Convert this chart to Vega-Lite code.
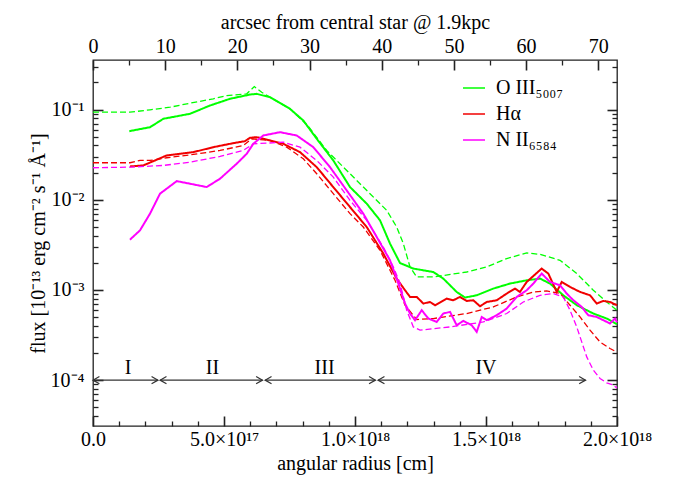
{
"$schema": "https://vega.github.io/schema/vega-lite/v6.json",
"width": 524, "height": 366,
"autosize": {"type": "none"},
"padding": {"left": 93, "top": 60, "right": 68, "bottom": 60},
"config": {
  "font": "Liberation Serif",
  "view": {"stroke": "#222", "strokeWidth": 1.3},
  "axis": {"labelFont": "Liberation Serif", "titleFont": "Liberation Serif", "labelFontSize": 20, "titleFontSize": 20, "labelColor": "#000", "titleColor": "#000", "tickColor": "#222", "tickOpacity": 1, "domain": false, "grid": false, "ticks": true, "titleFontWeight": "normal", "labelFlush": false, "labelOverlap": false, "labelBound": false, "zindex": 1},
  "text": {"font": "Liberation Serif"}
},
"datasets": {
  "curves": [
    {"line":"OIII","kind":"obs","r":1.386e17,"flux":0.0577},
    {"line":"OIII","kind":"obs","r":2.176e17,"flux":0.0638},
    {"line":"OIII","kind":"obs","r":2.683e17,"flux":0.0791},
    {"line":"OIII","kind":"obs","r":3.702e17,"flux":0.0899},
    {"line":"OIII","kind":"obs","r":4.466e17,"flux":0.111},
    {"line":"OIII","kind":"obs","r":5.229e17,"flux":0.1318},
    {"line":"OIII","kind":"obs","r":5.993e17,"flux":0.147},
    {"line":"OIII","kind":"obs","r":6.248e17,"flux":0.1496},
    {"line":"OIII","kind":"obs","r":6.756e17,"flux":0.1372},
    {"line":"OIII","kind":"obs","r":7.519e17,"flux":0.102},
    {"line":"OIII","kind":"obs","r":8.027e17,"flux":0.0757},
    {"line":"OIII","kind":"obs","r":8.539e17,"flux":0.0475},
    {"line":"OIII","kind":"obs","r":9.172e17,"flux":0.0273},
    {"line":"OIII","kind":"obs","r":9.81e17,"flux":0.01384},
    {"line":"OIII","kind":"obs","r":1.0447e18,"flux":0.00906},
    {"line":"OIII","kind":"obs","r":1.0955e18,"flux":0.00592},
    {"line":"OIII","kind":"obs","r":1.1336e18,"flux":0.00327},
    {"line":"OIII","kind":"obs","r":1.1718e18,"flux":0.00199},
    {"line":"OIII","kind":"obs","r":1.2226e18,"flux":0.001726},
    {"line":"OIII","kind":"obs","r":1.2989e18,"flux":0.001582},
    {"line":"OIII","kind":"obs","r":1.3371e18,"flux":0.001336},
    {"line":"OIII","kind":"obs","r":1.3882e18,"flux":0.00095},
    {"line":"OIII","kind":"obs","r":1.4199e18,"flux":0.000824},
    {"line":"OIII","kind":"obs","r":1.4646e18,"flux":0.000873},
    {"line":"OIII","kind":"obs","r":1.5279e18,"flux":0.001036},
    {"line":"OIII","kind":"obs","r":1.5917e18,"flux":0.001177},
    {"line":"OIII","kind":"obs","r":1.6554e18,"flux":0.00128},
    {"line":"OIII","kind":"obs","r":1.7062e18,"flux":0.001337},
    {"line":"OIII","kind":"obs","r":1.7443e18,"flux":0.001177},
    {"line":"OIII","kind":"obs","r":1.7951e18,"flux":0.000873},
    {"line":"OIII","kind":"obs","r":1.8463e18,"flux":0.000678},
    {"line":"OIII","kind":"obs","r":1.9096e18,"flux":0.000548},
    {"line":"OIII","kind":"obs","r":1.9608e18,"flux":0.000482},
    {"line":"OIII","kind":"obs","r":2.0e18,"flux":0.000417},
    {"line":"OIII","kind":"model","r":0,"flux":0.0936},
    {"line":"OIII","kind":"model","r":1.412e17,"flux":0.0936},
    {"line":"OIII","kind":"model","r":2.176e17,"flux":0.0995},
    {"line":"OIII","kind":"model","r":2.939e17,"flux":0.1063},
    {"line":"OIII","kind":"model","r":3.702e17,"flux":0.1178},
    {"line":"OIII","kind":"model","r":4.592e17,"flux":0.1318},
    {"line":"OIII","kind":"model","r":5.103e17,"flux":0.1432},
    {"line":"OIII","kind":"model","r":5.867e17,"flux":0.1496},
    {"line":"OIII","kind":"model","r":6.157e17,"flux":0.18},
    {"line":"OIII","kind":"model","r":6.439e17,"flux":0.1559},
    {"line":"OIII","kind":"model","r":6.756e17,"flux":0.1372},
    {"line":"OIII","kind":"model","r":7.519e17,"flux":0.102},
    {"line":"OIII","kind":"model","r":8.206e17,"flux":0.066},
    {"line":"OIII","kind":"model","r":8.92e17,"flux":0.0352},
    {"line":"OIII","kind":"model","r":9.81e17,"flux":0.01945},
    {"line":"OIII","kind":"model","r":1.0573e18,"flux":0.01168},
    {"line":"OIII","kind":"model","r":1.121e18,"flux":0.00764},
    {"line":"OIII","kind":"model","r":1.1592e18,"flux":0.00499},
    {"line":"OIII","kind":"model","r":1.1844e18,"flux":0.00327},
    {"line":"OIII","kind":"model","r":1.21e18,"flux":0.0018},
    {"line":"OIII","kind":"model","r":1.2356e18,"flux":0.001394},
    {"line":"OIII","kind":"model","r":1.2989e18,"flux":0.001394},
    {"line":"OIII","kind":"model","r":1.4264e18,"flux":0.001582},
    {"line":"OIII","kind":"model","r":1.5028e18,"flux":0.0018},
    {"line":"OIII","kind":"model","r":1.5791e18,"flux":0.00223},
    {"line":"OIII","kind":"model","r":1.6554e18,"flux":0.00257},
    {"line":"OIII","kind":"model","r":1.7062e18,"flux":0.002485},
    {"line":"OIII","kind":"model","r":1.7825e18,"flux":0.002133},
    {"line":"OIII","kind":"model","r":1.8463e18,"flux":0.00152},
    {"line":"OIII","kind":"model","r":1.9096e18,"flux":0.000993},
    {"line":"OIII","kind":"model","r":1.9608e18,"flux":0.000736},
    {"line":"OIII","kind":"model","r":2.0e18,"flux":0.000596},
    {"line":"Ha","kind":"obs","r":1.412e17,"flux":0.02344},
    {"line":"Ha","kind":"obs","r":1.92e17,"flux":0.02404},
    {"line":"Ha","kind":"obs","r":2.813e17,"flux":0.03105},
    {"line":"Ha","kind":"obs","r":3.828e17,"flux":0.03374},
    {"line":"Ha","kind":"obs","r":4.592e17,"flux":0.03834},
    {"line":"Ha","kind":"obs","r":5.355e17,"flux":0.04246},
    {"line":"Ha","kind":"obs","r":5.798e17,"flux":0.04467},
    {"line":"Ha","kind":"obs","r":5.993e17,"flux":0.04873},
    {"line":"Ha","kind":"obs","r":6.248e17,"flux":0.04948},
    {"line":"Ha","kind":"obs","r":6.5e17,"flux":0.0475},
    {"line":"Ha","kind":"obs","r":7.264e17,"flux":0.0418},
    {"line":"Ha","kind":"obs","r":7.901e17,"flux":0.03374},
    {"line":"Ha","kind":"obs","r":8.539e17,"flux":0.02301},
    {"line":"Ha","kind":"obs","r":9.172e17,"flux":0.01382},
    {"line":"Ha","kind":"obs","r":9.81e17,"flux":0.0083},
    {"line":"Ha","kind":"obs","r":1.0447e18,"flux":0.00499},
    {"line":"Ha","kind":"obs","r":1.1081e18,"flux":0.00253},
    {"line":"Ha","kind":"obs","r":1.1592e18,"flux":0.001336},
    {"line":"Ha","kind":"obs","r":1.1909e18,"flux":0.000993},
    {"line":"Ha","kind":"obs","r":1.21e18,"flux":0.000837},
    {"line":"Ha","kind":"obs","r":1.2356e18,"flux":0.000837},
    {"line":"Ha","kind":"obs","r":1.2608e18,"flux":0.000707},
    {"line":"Ha","kind":"obs","r":1.2863e18,"flux":0.000736},
    {"line":"Ha","kind":"obs","r":1.3054e18,"flux":0.000677},
    {"line":"Ha","kind":"obs","r":1.3501e18,"flux":0.000803},
    {"line":"Ha","kind":"obs","r":1.3753e18,"flux":0.000769},
    {"line":"Ha","kind":"obs","r":1.4008e18,"flux":0.000837},
    {"line":"Ha","kind":"obs","r":1.4264e18,"flux":0.000755},
    {"line":"Ha","kind":"obs","r":1.4516e18,"flux":0.000769},
    {"line":"Ha","kind":"obs","r":1.4772e18,"flux":0.00066},
    {"line":"Ha","kind":"obs","r":1.5028e18,"flux":0.000736},
    {"line":"Ha","kind":"obs","r":1.541e18,"flux":0.000769},
    {"line":"Ha","kind":"obs","r":1.5791e18,"flux":0.000912},
    {"line":"Ha","kind":"obs","r":1.6108e18,"flux":0.001036},
    {"line":"Ha","kind":"obs","r":1.6295e18,"flux":0.000951},
    {"line":"Ha","kind":"obs","r":1.6554e18,"flux":0.001227},
    {"line":"Ha","kind":"obs","r":1.7123e18,"flux":0.001726},
    {"line":"Ha","kind":"obs","r":1.7379e18,"flux":0.00152},
    {"line":"Ha","kind":"obs","r":1.7699e18,"flux":0.000951},
    {"line":"Ha","kind":"obs","r":1.789e18,"flux":0.001227},
    {"line":"Ha","kind":"obs","r":1.8207e18,"flux":0.00108},
    {"line":"Ha","kind":"obs","r":1.8589e18,"flux":0.000951},
    {"line":"Ha","kind":"obs","r":1.897e18,"flux":0.000873},
    {"line":"Ha","kind":"obs","r":1.9226e18,"flux":0.000707},
    {"line":"Ha","kind":"obs","r":1.9478e18,"flux":0.000755},
    {"line":"Ha","kind":"obs","r":1.9733e18,"flux":0.000736},
    {"line":"Ha","kind":"obs","r":2.0e18,"flux":0.000677},
    {"line":"Ha","kind":"model","r":0,"flux":0.02576},
    {"line":"Ha","kind":"model","r":1.412e17,"flux":0.02576},
    {"line":"Ha","kind":"model","r":1.794e17,"flux":0.0273},
    {"line":"Ha","kind":"model","r":2.176e17,"flux":0.0273},
    {"line":"Ha","kind":"model","r":2.813e17,"flux":0.02925},
    {"line":"Ha","kind":"model","r":3.828e17,"flux":0.03184},
    {"line":"Ha","kind":"model","r":4.848e17,"flux":0.03524},
    {"line":"Ha","kind":"model","r":5.737e17,"flux":0.04002},
    {"line":"Ha","kind":"model","r":6.058e17,"flux":0.0475},
    {"line":"Ha","kind":"model","r":6.756e17,"flux":0.0455},
    {"line":"Ha","kind":"model","r":7.394e17,"flux":0.03834},
    {"line":"Ha","kind":"model","r":8.027e17,"flux":0.0285},
    {"line":"Ha","kind":"model","r":8.539e17,"flux":0.01945},
    {"line":"Ha","kind":"model","r":9.172e17,"flux":0.01168},
    {"line":"Ha","kind":"model","r":9.81e17,"flux":0.00702},
    {"line":"Ha","kind":"model","r":1.0317e18,"flux":0.00499},
    {"line":"Ha","kind":"model","r":1.0955e18,"flux":0.00275},
    {"line":"Ha","kind":"model","r":1.1527e18,"flux":0.00128},
    {"line":"Ha","kind":"model","r":1.1909e18,"flux":0.000677},
    {"line":"Ha","kind":"model","r":1.2356e18,"flux":0.00047},
    {"line":"Ha","kind":"model","r":1.2989e18,"flux":0.000482},
    {"line":"Ha","kind":"model","r":1.4264e18,"flux":0.000548},
    {"line":"Ha","kind":"model","r":1.5279e18,"flux":0.000648},
    {"line":"Ha","kind":"model","r":1.6172e18,"flux":0.000837},
    {"line":"Ha","kind":"model","r":1.6806e18,"flux":0.000951},
    {"line":"Ha","kind":"model","r":1.7318e18,"flux":0.000975},
    {"line":"Ha","kind":"model","r":1.7825e18,"flux":0.000919},
    {"line":"Ha","kind":"model","r":1.8207e18,"flux":0.000677},
    {"line":"Ha","kind":"model","r":1.8589e18,"flux":0.000502},
    {"line":"Ha","kind":"model","r":1.897e18,"flux":0.000358},
    {"line":"Ha","kind":"model","r":1.9352e18,"flux":0.000265},
    {"line":"Ha","kind":"model","r":1.9733e18,"flux":0.000224},
    {"line":"Ha","kind":"model","r":2.0e18,"flux":0.000204},
    {"line":"NII","kind":"obs","r":1.412e17,"flux":0.003614},
    {"line":"NII","kind":"obs","r":1.794e17,"flux":0.004581},
    {"line":"NII","kind":"obs","r":2.176e17,"flux":0.00702},
    {"line":"NII","kind":"obs","r":2.557e17,"flux":0.01168},
    {"line":"NII","kind":"obs","r":3.195e17,"flux":0.0161},
    {"line":"NII","kind":"obs","r":3.702e17,"flux":0.01508},
    {"line":"NII","kind":"obs","r":4.34e17,"flux":0.01384},
    {"line":"NII","kind":"obs","r":4.848e17,"flux":0.01713},
    {"line":"NII","kind":"obs","r":5.485e17,"flux":0.02511},
    {"line":"NII","kind":"obs","r":5.867e17,"flux":0.03239},
    {"line":"NII","kind":"obs","r":6.119e17,"flux":0.0418},
    {"line":"NII","kind":"obs","r":6.5e17,"flux":0.05165},
    {"line":"NII","kind":"obs","r":7.138e17,"flux":0.0562},
    {"line":"NII","kind":"obs","r":7.775e17,"flux":0.05165},
    {"line":"NII","kind":"obs","r":8.409e17,"flux":0.03834},
    {"line":"NII","kind":"obs","r":9.046e17,"flux":0.02301},
    {"line":"NII","kind":"obs","r":9.684e17,"flux":0.0127},
    {"line":"NII","kind":"obs","r":1.0317e18,"flux":0.00702},
    {"line":"NII","kind":"obs","r":1.0829e18,"flux":0.003864},
    {"line":"NII","kind":"obs","r":1.1336e18,"flux":0.002133},
    {"line":"NII","kind":"obs","r":1.1592e18,"flux":0.001336},
    {"line":"NII","kind":"obs","r":1.1718e18,"flux":0.001036},
    {"line":"NII","kind":"obs","r":1.1909e18,"flux":0.000707},
    {"line":"NII","kind":"obs","r":1.21e18,"flux":0.000548},
    {"line":"NII","kind":"obs","r":1.2291e18,"flux":0.000462},
    {"line":"NII","kind":"obs","r":1.2547e18,"flux":0.000596},
    {"line":"NII","kind":"obs","r":1.2799e18,"flux":0.000482},
    {"line":"NII","kind":"obs","r":1.3119e18,"flux":0.000442},
    {"line":"NII","kind":"obs","r":1.3371e18,"flux":0.000548},
    {"line":"NII","kind":"obs","r":1.3627e18,"flux":0.000571},
    {"line":"NII","kind":"obs","r":1.3882e18,"flux":0.000406},
    {"line":"NII","kind":"obs","r":1.4134e18,"flux":0.000454},
    {"line":"NII","kind":"obs","r":1.4455e18,"flux":0.000406},
    {"line":"NII","kind":"obs","r":1.4646e18,"flux":0.000343},
    {"line":"NII","kind":"obs","r":1.4837e18,"flux":0.000502},
    {"line":"NII","kind":"obs","r":1.5028e18,"flux":0.000462},
    {"line":"NII","kind":"obs","r":1.541e18,"flux":0.000525},
    {"line":"NII","kind":"obs","r":1.5791e18,"flux":0.000622},
    {"line":"NII","kind":"obs","r":1.6172e18,"flux":0.000837},
    {"line":"NII","kind":"obs","r":1.6554e18,"flux":0.000993},
    {"line":"NII","kind":"obs","r":1.6806e18,"flux":0.001177},
    {"line":"NII","kind":"obs","r":1.7127e18,"flux":0.00152},
    {"line":"NII","kind":"obs","r":1.7443e18,"flux":0.001227},
    {"line":"NII","kind":"obs","r":1.7825e18,"flux":0.001127},
    {"line":"NII","kind":"obs","r":1.8081e18,"flux":0.000912},
    {"line":"NII","kind":"obs","r":1.8333e18,"flux":0.000769},
    {"line":"NII","kind":"obs","r":1.8654e18,"flux":0.000648},
    {"line":"NII","kind":"obs","r":1.8902e18,"flux":0.000525},
    {"line":"NII","kind":"obs","r":1.9226e18,"flux":0.000502},
    {"line":"NII","kind":"obs","r":1.9478e18,"flux":0.000462},
    {"line":"NII","kind":"obs","r":1.9733e18,"flux":0.000425},
    {"line":"NII","kind":"obs","r":1.9924e18,"flux":0.000482},
    {"line":"NII","kind":"obs","r":2.0e18,"flux":0.000438},
    {"line":"NII","kind":"model","r":0,"flux":0.02267},
    {"line":"NII","kind":"model","r":1.412e17,"flux":0.02301},
    {"line":"NII","kind":"model","r":2.683e17,"flux":0.02404},
    {"line":"NII","kind":"model","r":3.702e17,"flux":0.02616},
    {"line":"NII","kind":"model","r":4.848e17,"flux":0.03024},
    {"line":"NII","kind":"model","r":5.737e17,"flux":0.03524},
    {"line":"NII","kind":"model","r":6.119e17,"flux":0.0418},
    {"line":"NII","kind":"model","r":6.63e17,"flux":0.04246},
    {"line":"NII","kind":"model","r":7.264e17,"flux":0.04355},
    {"line":"NII","kind":"model","r":7.901e17,"flux":0.03834},
    {"line":"NII","kind":"model","r":8.539e17,"flux":0.0273},
    {"line":"NII","kind":"model","r":9.172e17,"flux":0.01784},
    {"line":"NII","kind":"model","r":9.81e17,"flux":0.00985},
    {"line":"NII","kind":"model","r":1.0447e18,"flux":0.00592},
    {"line":"NII","kind":"model","r":1.1081e18,"flux":0.00299},
    {"line":"NII","kind":"model","r":1.1463e18,"flux":0.0018},
    {"line":"NII","kind":"model","r":1.1718e18,"flux":0.001186},
    {"line":"NII","kind":"model","r":1.1974e18,"flux":0.000596},
    {"line":"NII","kind":"model","r":1.2226e18,"flux":0.000389},
    {"line":"NII","kind":"model","r":1.2482e18,"flux":0.000358},
    {"line":"NII","kind":"model","r":1.3627e18,"flux":0.000389},
    {"line":"NII","kind":"model","r":1.4898e18,"flux":0.000442},
    {"line":"NII","kind":"model","r":1.5791e18,"flux":0.000548},
    {"line":"NII","kind":"model","r":1.6424e18,"flux":0.000736},
    {"line":"NII","kind":"model","r":1.7062e18,"flux":0.000873},
    {"line":"NII","kind":"model","r":1.757e18,"flux":0.000912},
    {"line":"NII","kind":"model","r":1.7951e18,"flux":0.000837},
    {"line":"NII","kind":"model","r":1.8207e18,"flux":0.000596},
    {"line":"NII","kind":"model","r":1.8463e18,"flux":0.000389},
    {"line":"NII","kind":"model","r":1.8589e18,"flux":0.000302},
    {"line":"NII","kind":"model","r":1.8845e18,"flux":0.000181},
    {"line":"NII","kind":"model","r":1.9096e18,"flux":0.000129},
    {"line":"NII","kind":"model","r":1.9352e18,"flux":0.0001044},
    {"line":"NII","kind":"model","r":1.9608e18,"flux":0.0000933},
    {"line":"NII","kind":"model","r":1.986e18,"flux":0.0000881},
    {"line":"NII","kind":"model","r":2.0e18,"flux":0.0000817}
  ],
  "arrows": [
    {"x1":0,"x2":2.48e17,"y":1e-4},
    {"x1":2.56e17,"x2":6.47e17,"y":1e-4},
    {"x1":6.57e17,"x2":1.078e18,"y":1e-4},
    {"x1":1.088e18,"x2":1.88e18,"y":1e-4}
  ],
  "heads": [
    {"x":0,"y":1e-4,"dir":"left"},{"x":2.48e17,"y":1e-4,"dir":"right"},
    {"x":2.56e17,"y":1e-4,"dir":"left"},{"x":6.47e17,"y":1e-4,"dir":"right"},
    {"x":6.57e17,"y":1e-4,"dir":"left"},{"x":1.078e18,"y":1e-4,"dir":"right"},
    {"x":1.088e18,"y":1e-4,"dir":"left"},{"x":1.88e18,"y":1e-4,"dir":"right"}
  ],
  "regions": [
    {"label":"I","x":1.34e17,"y":1.36e-4},
    {"label":"II","x":4.56e17,"y":1.36e-4},
    {"label":"III","x":8.84e17,"y":1.36e-4},
    {"label":"IV","x":1.50e18,"y":1.36e-4}
  ],
  "arcsec": [{"a":0},{"a":10},{"a":20},{"a":30},{"a":40},{"a":50},{"a":60},{"a":70}]
},
"layer": [
  {
    "data": {"name": "curves"},
    "mark": {"type": "line"},
    "encoding": {
      "x": {"field": "r", "type": "quantitative", "scale": {"domain": [0, 2e18], "nice": false, "zero": false},
        "axis": {"orient": "bottom", "values": [0, 5e17, 1e18, 1.5e18, 2e18], "offset": -10, "tickSize": 10, "tickWidth": 1.6, "labelPadding": 3, "titlePadding": 4,
          "labelExpr": "datum.value < 1e17 ? '0.0' : datum.value < 7e17 ? '5.0×10¹⁷' : datum.value < 1.2e18 ? '1.0×10¹⁸' : datum.value < 1.7e18 ? '1.5×10¹⁸' : '2.0×10¹⁸'",
          "title": "angular radius [cm]"}},
      "y": {"field": "flux", "type": "quantitative", "scale": {"type": "log", "domain": [3.1e-5, 0.355], "nice": false},
        "axis": {"orient": "left", "values": [1e-4, 1e-3, 1e-2, 1e-1], "offset": -10, "tickSize": 10, "tickWidth": 1.6, "labelPadding": 9, "titlePadding": 2,
          "labelExpr": "'10' + (datum.value < 5e-4 ? '⁻⁴' : datum.value < 5e-3 ? '⁻³' : datum.value < 5e-2 ? '⁻²' : '⁻¹')",
          "title": "flux [10⁻¹³ erg cm⁻² s⁻¹ Å⁻¹]"}},
      "color": {"field": "line", "type": "nominal", "scale": {"domain": ["OIII", "Ha", "NII"], "range": ["#00ff00", "#f00000", "#ff00ff"]},
        "legend": {"orient": "none", "legendX": 369, "legendY": 16, "title": null, "symbolType": "stroke", "symbolSize": 484, "symbolStrokeWidth": 1.5,
          "labelFontSize": 20, "labelFont": "Liberation Serif", "labelColor": "#000", "labelOffset": 10, "rowPadding": 4, "padding": 0,
          "labelExpr": "datum.label == 'OIII' ? 'O III₅₀₀₇' : datum.label == 'Ha' ? 'Hα' : 'N II₆₅₈₄'"}},
      "strokeDash": {"field": "kind", "type": "nominal", "scale": {"domain": ["obs", "model"], "range": [[1, 0], [6, 3]]}, "legend": null},
      "strokeWidth": {"field": "kind", "type": "ordinal", "scale": {"domain": ["obs", "model"], "range": [2, 1.3]}, "legend": null}
    }
  },
  {
    "data": {"name": "arrows"},
    "mark": {"type": "rule", "color": "#333", "strokeWidth": 1.2},
    "encoding": {
      "x": {"field": "x1", "type": "quantitative", "scale": {"domain": [0, 2e18], "nice": false, "zero": false},
        "axis": {"orient": "bottom", "values": [1e17, 2e17, 3e17, 4e17, 6e17, 7e17, 8e17, 9e17, 1.1e18, 1.2e18, 1.3e18, 1.4e18, 1.6e18, 1.7e18, 1.8e18, 1.9e18], "labels": false, "offset": -5, "tickSize": 5, "tickWidth": 1.3, "title": null}},
      "x2": {"field": "x2"},
      "y": {"field": "y", "type": "quantitative", "scale": {"type": "log", "domain": [3.1e-5, 0.355], "nice": false},
        "axis": {"orient": "left", "values": [4e-5, 5e-5, 6e-5, 7e-5, 8e-5, 9e-5, 2e-4, 3e-4, 4e-4, 5e-4, 6e-4, 7e-4, 8e-4, 9e-4, 2e-3, 3e-3, 4e-3, 5e-3, 6e-3, 7e-3, 8e-3, 9e-3, 2e-2, 3e-2, 4e-2, 5e-2, 6e-2, 7e-2, 8e-2, 9e-2, 2e-1, 3e-1], "labels": false, "offset": -5, "tickSize": 5, "tickWidth": 1.3, "title": null}}
    }
  },
  {
    "data": {"name": "heads"},
    "mark": {"type": "point", "filled": false, "color": "#333", "strokeWidth": 1.2, "size": 64, "opacity": 1},
    "encoding": {
      "x": {"field": "x", "type": "quantitative", "scale": {"domain": [0, 2e18], "nice": false, "zero": false}, "axis": null},
      "y": {"field": "y", "type": "quantitative", "scale": {"type": "log", "domain": [3.1e-5, 0.355], "nice": false},
        "axis": {"orient": "right", "values": [1e-4, 1e-3, 1e-2, 1e-1], "labels": false, "offset": -10, "tickSize": 10, "tickWidth": 1.6, "title": null}},
      "shape": {"field": "dir", "type": "nominal", "scale": {"domain": ["left", "right"], "range": ["M1.6,-0.9L0,0L1.6,0.9", "M-1.6,-0.9L0,0L-1.6,0.9"]}, "legend": null}
    }
  },
  {
    "data": {"name": "regions"},
    "mark": {"type": "text", "fontSize": 20, "font": "Liberation Serif", "baseline": "middle", "align": "center", "color": "#000"},
    "encoding": {
      "x": {"field": "x", "type": "quantitative", "scale": {"domain": [0, 2e18], "nice": false, "zero": false}, "axis": null},
      "y": {"field": "y", "type": "quantitative", "scale": {"type": "log", "domain": [3.1e-5, 0.355], "nice": false},
        "axis": {"orient": "right", "values": [4e-5, 5e-5, 6e-5, 7e-5, 8e-5, 9e-5, 2e-4, 3e-4, 4e-4, 5e-4, 6e-4, 7e-4, 8e-4, 9e-4, 2e-3, 3e-3, 4e-3, 5e-3, 6e-3, 7e-3, 8e-3, 9e-3, 2e-2, 3e-2, 4e-2, 5e-2, 6e-2, 7e-2, 8e-2, 9e-2, 2e-1, 3e-1], "labels": false, "offset": -5, "tickSize": 5, "tickWidth": 1.3, "title": null}},
      "text": {"field": "label"}
    }
  },
  {
    "data": {"name": "arcsec"},
    "mark": {"type": "rule", "opacity": 0},
    "encoding": {
      "x": {"field": "a", "type": "quantitative", "scale": {"domain": [0, 72.6], "nice": false, "zero": false},
        "axis": {"orient": "top", "values": [0, 10, 20, 30, 40, 50, 60, 70], "offset": -10, "tickSize": 10, "tickWidth": 1.6, "labelPadding": 4, "titlePadding": 4, "title": "arcsec from central star @ 1.9kpc"}}
    }
  },
  {
    "data": {"name": "arcsec"},
    "mark": {"type": "rule", "opacity": 0},
    "encoding": {
      "x": {"field": "a", "type": "quantitative", "scale": {"domain": [0, 72.6], "nice": false, "zero": false},
        "axis": {"orient": "top", "values": [5, 15, 25, 35, 45, 55, 65], "labels": false, "offset": -5, "tickSize": 5, "tickWidth": 1.3, "title": null}}
    }
  }
],
"resolve": {"scale": {"x": "independent", "y": "independent"}}
}
